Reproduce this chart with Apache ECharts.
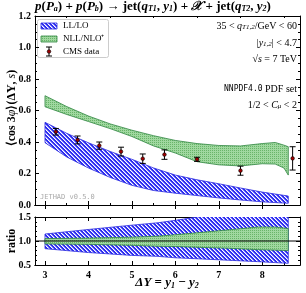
<!DOCTYPE html>
<html><head><meta charset="utf-8">
<script src="https://cdn.jsdelivr.net/npm/echarts@6/dist/echarts.min.js"></script>
<style>html,body{margin:0;padding:0;background:#fff}#c{width:306px;height:293px}</style>
</head><body><div id="c"></div>
<script>
// ---- data ----
const loX = [3, 3.5, 4, 4.5, 5, 5.5, 6, 6.5, 7, 7.5, 8, 8.6];
const loLow = [0.396, 0.305, 0.235, 0.175, 0.125, 0.092, 0.075, 0.06, 0.045, 0.032, 0.02, 0.011];
const loHigh = [0.525, 0.455, 0.395, 0.34, 0.29, 0.235, 0.19, 0.16, 0.135, 0.108, 0.082, 0.057];
const nloX = [3, 3.5, 4, 4.5, 5, 5.5, 6, 6.5, 7, 7.5, 8, 8.3, 8.5, 8.6];
const nloLow = [0.624, 0.575, 0.53, 0.485, 0.435, 0.375, 0.33, 0.275, 0.255, 0.248, 0.262, 0.26, 0.235, 0.19];
const nloHigh = [0.694, 0.625, 0.565, 0.515, 0.475, 0.44, 0.41, 0.39, 0.378, 0.375, 0.39, 0.397, 0.38, 0.37];
const cmsX = [3.25, 3.75, 4.25, 4.75, 5.25, 5.75, 6.5, 7.5, 8.7];
const cmsY = [0.465, 0.413, 0.377, 0.339, 0.294, 0.32, 0.29, 0.218, 0.296];
const cmsErr = [0.021, 0.025, 0.023, 0.028, 0.03, 0.03, 0.013, 0.029, 0.074];
const ratioX = [3, 4, 5, 5.6, 6, 6.5, 7.2, 7.9, 8.3, 8.6];
const loRatioLow = [0.84, 0.76, 0.70, 0.68, 0.65, 0.63, 0.60, 0.57, 0.55, 0.535];
const loRatioHigh = [1.145, 1.24, 1.33, 1.38, 1.43, 1.50, 1.60, 1.70, 1.74, 1.77];
const nloRatioLow = [0.94, 0.93, 0.91, 0.89, 0.885, 0.87, 0.85, 0.82, 0.81, 0.80];
const nloRatioHigh = [1.05, 1.06, 1.08, 1.10, 1.13, 1.17, 1.23, 1.29, 1.29, 1.26];
const xTicks = [3, 4, 5, 6, 7, 8];
const xMinorTicks = [3.5, 4.5, 5.5, 6.5, 7.5, 8.5];

// ---- patterns ----
function makePattern(w, h, fn) {
  const c = document.createElement('canvas'); c.width = w; c.height = h;
  const ctx = c.getContext('2d'); const img = ctx.createImageData(w, h);
  for (let y = 0; y < h; y++) for (let x = 0; x < w; x++) {
    const col = fn(x, y); const k = (y * w + x) * 4;
    img.data[k] = col[0]; img.data[k + 1] = col[1]; img.data[k + 2] = col[2]; img.data[k + 3] = 255;
  }
  ctx.putImageData(img, 0, 0);
  return { image: c, repeat: 'repeat' };
}
const bluePat = makePattern(4, 4, (x, y) => {
  const d = ((x - y) % 4 + 4) % 4;
  return d === 0 ? [255, 255, 255] : d === 1 ? [150, 150, 255] : [45, 45, 240];
});
const greenPat = makePattern(2, 2, (x, y) => ((x === 0 && y === 0) ? [105, 180, 105] : [160, 216, 160]));
const blueEdge = '#2a2ae0', greenEdge = '#2e8540';

function band(xs, lo, hi, fill, stroke, xi, yi) {
  return {
    type: 'custom', xAxisIndex: xi, yAxisIndex: yi, silent: true, animation: false,
    data: [[xs[0], lo[0]]],
    renderItem: (params, api) => {
      const pts = [];
      xs.forEach((x, i) => pts.push(api.coord([x, hi[i]])));
      for (let i = xs.length - 1; i >= 0; i--) pts.push(api.coord([xs[i], lo[i]]));
      const cs = params.coordSys;
      return {
        type: 'group',
        clipPath: { type: 'rect', shape: { x: cs.x, y: cs.y, width: cs.width, height: cs.height } },
        children: [{ type: 'polygon', shape: { points: pts }, style: { fill: fill, stroke: stroke, lineWidth: 0.8 } }]
      };
    }
  };
}

const serif = 'Liberation Serif';
const lbl = { fontFamily: serif, fontWeight: 'bold', fontSize: 10, color: '#000' };
const axLine = { show: true, lineStyle: { color: '#000', width: 1 } };

function xAx(grid, pos, labels, minor) {
  return {
    type: 'value', gridIndex: grid, position: pos, min: 2.77, max: 8.87,
    axisLine: axLine, splitLine: { show: false },
    axisTick: { show: true, inside: true, length: minor ? 2 : 4, lineStyle: { color: '#000' }, customValues: minor ? xMinorTicks : xTicks },
    axisLabel: labels ? Object.assign({ show: true, margin: 5, customValues: xTicks }, lbl) : { show: false }
  };
}
function yAx(grid, pos, min, max, interval, split, labels) {
  return {
    type: 'value', gridIndex: grid, position: pos, min: min, max: max, interval: interval,
    axisLine: axLine, splitLine: { show: false },
    axisTick: { show: true, inside: true, length: 4, lineStyle: { color: '#000' } },
    minorTick: { show: true, splitNumber: split, length: 2, lineStyle: { color: '#000' } },
    axisLabel: labels ? Object.assign({ show: true, margin: 4, formatter: v => v.toFixed(1) }, lbl) : { show: false }
  };
}

const chart = echarts.init(document.getElementById('c'), null, { renderer: 'canvas' });

const errSeries = {
  type: 'custom', xAxisIndex: 0, yAxisIndex: 0, silent: true, animation: false,
  data: cmsX.map((x, i) => [x, cmsY[i], cmsErr[i]]),
  renderItem: (params, api) => {
    const x = api.value(0), y = api.value(1), e = api.value(2);
    const p = api.coord([x, y]), t = api.coord([x, y + e]), b = api.coord([x, y - e]);
    const ls = { stroke: '#000', lineWidth: 1 };
    return {
      type: 'group', children: [
        { type: 'line', shape: { x1: p[0], y1: t[1], x2: p[0], y2: b[1] }, style: ls },
        { type: 'line', shape: { x1: p[0] - 3, y1: t[1], x2: p[0] + 3, y2: t[1] }, style: ls },
        { type: 'line', shape: { x1: p[0] - 3, y1: b[1], x2: p[0] + 3, y2: b[1] }, style: ls },
        { type: 'circle', shape: { cx: p[0], cy: p[1], r: 1.8 }, style: { fill: '#a00000', stroke: '#000', lineWidth: 0.6 } }
      ]
    };
  }
};

const refLine = {
  type: 'line', xAxisIndex: 4, yAxisIndex: 2, silent: true, animation: false, symbol: 'none',
  data: [[2.77, 1], [8.87, 1]], lineStyle: { color: '#000', width: 1 }
};

const sub = { fontSize: 8, verticalAlign: 'bottom', lineHeight: 9, fontFamily: serif };
const richT = {
  i: { fontStyle: 'italic', fontFamily: serif, fontWeight: 'bold', fontSize: 13 },
  b: { fontFamily: serif, fontWeight: 'bold', fontSize: 13 },
  s: Object.assign({ fontWeight: 'bold', fontStyle: 'italic' }, sub),
};
const richA = {
  i: { fontStyle: 'italic', fontFamily: serif, fontSize: 10 },
  s: Object.assign({ fontStyle: 'italic' }, sub, { fontSize: 7, lineHeight: 7 }),
  m: { fontFamily: 'DejaVu Sans Mono', fontSize: 8 },
};

chart.setOption({
  animation: false,
  backgroundColor: '#fff',
  grid: [
    { left: 35, top: 16, width: 265, height: 189 },
    { left: 35, top: 217, width: 265, height: 48 }
  ],
  xAxis: [
    xAx(0, 'bottom', false, false), xAx(0, 'top', false, false),
    xAx(0, 'bottom', false, true), xAx(0, 'top', false, true),
    xAx(1, 'bottom', true, false), xAx(1, 'top', false, false),
    xAx(1, 'bottom', false, true), xAx(1, 'top', false, true)
  ],
  yAxis: [
    yAx(0, 'left', 0, 1.2, 0.2, 4, true), yAx(0, 'right', 0, 1.2, 0.2, 4, false),
    yAx(1, 'left', 0.5, 1.5, 0.5, 5, true), yAx(1, 'right', 0.5, 1.5, 0.5, 5, false)
  ],
  series: [
    band(loX, loLow, loHigh, bluePat, blueEdge, 0, 0),
    band(nloX, nloLow, nloHigh, greenPat, greenEdge, 0, 0),
    errSeries,
    band(ratioX, loRatioLow, loRatioHigh, bluePat, blueEdge, 4, 2),
    band(ratioX, nloRatioLow, nloRatioHigh, greenPat, greenEdge, 4, 2),
    refLine
  ],
  graphic: [
    // title
    { type: 'text', left: 'center', top: 0, style: {
      text: '{i|p}{b|(}{i|P}{s|a}{b|) + }{i|p}{b|(}{i|P}{s|b}{b|) → jet(}{i|q}{s|T1}{b|, }{i|y}{s|1}{b|) + }{i|𝒳}{b| + jet(}{i|q}{s|T2}{b|, }{i|y}{s|2}{b|)}',
      rich: richT, fill: '#000' } },
    // legend box
    { type: 'rect', shape: { x: 37.5, y: 19.5, width: 71, height: 38, r: 2 }, style: { fill: 'rgba(255,255,255,0.85)', stroke: '#ccc', lineWidth: 1 } },
    { type: 'rect', shape: { x: 41, y: 23, width: 16, height: 6 }, style: { fill: bluePat, stroke: blueEdge, lineWidth: 0.8 } },
    { type: 'rect', shape: { x: 41, y: 36, width: 16, height: 6 }, style: { fill: greenPat, stroke: greenEdge, lineWidth: 0.8 } },
    { type: 'line', shape: { x1: 49, y1: 47, x2: 49, y2: 56 }, style: { stroke: '#000', lineWidth: 1 } },
    { type: 'line', shape: { x1: 46, y1: 47, x2: 52, y2: 47 }, style: { stroke: '#000', lineWidth: 1 } },
    { type: 'line', shape: { x1: 46, y1: 56, x2: 52, y2: 56 }, style: { stroke: '#000', lineWidth: 1 } },
    { type: 'circle', shape: { cx: 49, cy: 51.5, r: 1.8 }, style: { fill: '#a00000', stroke: '#000', lineWidth: 0.6 } },
    { type: 'text', x: 63, y: 26, style: { text: 'LL/LO', font: '9px "Liberation Serif"', fill: '#000', verticalAlign: 'middle' } },
    { type: 'text', x: 63, y: 39, style: { text: 'NLL/NLO⁺', font: '9px "Liberation Serif"', fill: '#000', verticalAlign: 'middle' } },
    { type: 'text', x: 63, y: 52, style: { text: 'CMS data', font: '9px "Liberation Serif"', fill: '#000', verticalAlign: 'middle' } },
    // annotations
    { type: 'text', x: 297, y: 26, style: { text: '35 < {i|q}{s|T1,2}/GeV < 60', rich: richA, font: '10px "Liberation Serif"', fill: '#000', align: 'right', verticalAlign: 'middle' } },
    { type: 'text', x: 297, y: 43, style: { text: '|{i|y}{s|1,2}| < 4.7', rich: richA, font: '10px "Liberation Serif"', fill: '#000', align: 'right', verticalAlign: 'middle' } },
    { type: 'text', x: 297, y: 59, style: { text: '√{i|s} = 7 TeV', rich: richA, font: '10px "Liberation Serif"', fill: '#000', align: 'right', verticalAlign: 'middle' } },
    { type: 'text', x: 297, y: 89, style: { text: '{m|NNPDF4.0} PDF set', rich: richA, font: '10px "Liberation Serif"', fill: '#000', align: 'right', verticalAlign: 'middle' } },
    { type: 'text', x: 297, y: 105, style: { text: '1/2 < {i|C}{s|μ} < 2', rich: richA, font: '10px "Liberation Serif"', fill: '#000', align: 'right', verticalAlign: 'middle' } },
    // watermark
    { type: 'text', x: 40, y: 197, style: { text: 'JETHAD v0.5.0', font: '7px "DejaVu Sans Mono"', fill: '#aaa', verticalAlign: 'middle' } },
    // axis titles
    { type: 'text', x: 12, y: 108, rotation: Math.PI / 2, style: {
      text: '⟨cos 3{i|φ}⟩({b|ΔY}, {i|s})', font: 'bold 12px "Liberation Serif"', fill: '#000', align: 'center', verticalAlign: 'middle',
      rich: { i: { fontStyle: 'italic', fontFamily: serif, fontSize: 12 }, b: { fontWeight: 'bold', fontFamily: serif, fontSize: 12 } } } },
    { type: 'text', x: 12, y: 241, rotation: Math.PI / 2, style: { text: 'ratio', font: 'bold 12px "Liberation Serif"', fill: '#000', align: 'center', verticalAlign: 'middle' } },
    { type: 'text', x: 167, y: 283, style: {
      text: '{b|ΔY} = {i|y}{s|1} − {i|y}{s|2}', font: 'bold 13px "Liberation Serif"', fill: '#000', align: 'center', verticalAlign: 'middle',
      rich: { b: { fontWeight: 'bold', fontStyle: 'italic', fontFamily: serif, fontSize: 13 }, i: { fontStyle: 'italic', fontWeight: 'bold', fontFamily: serif, fontSize: 13 }, s: Object.assign({ fontWeight: 'bold', fontStyle: 'italic' }, sub) } } }
  ]
});
</script></body></html>
